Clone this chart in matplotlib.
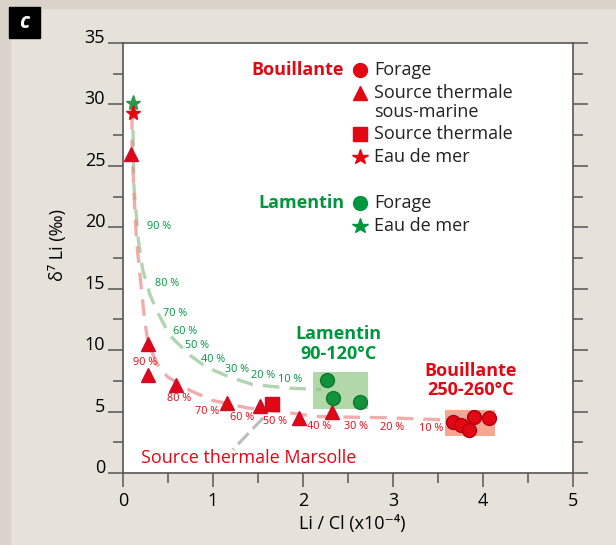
import matplotlib
matplotlib.use("Agg")
import matplotlib.pyplot as plt
from matplotlib.patches import Rectangle

plt.rcParams['font.family'] = ['Open Sans', 'DejaVu Sans']

RED = '#e30613'
GREEN = '#00963f'
AXC = '#555555'

# measured points
bou_sea_x = [0.11]
bou_sea_y = [29.3]
lam_sea_x = [0.11]
lam_sea_y = [30.1]
tri_x = [0.09, 0.28, 0.28, 0.59, 1.15, 1.52, 1.95, 2.32]
tri_y = [26.0, 10.5, 8.0, 7.2, 5.7, 5.45, 4.5, 5.0]
marsolle_x = [1.65]
marsolle_y = [5.6]
bou_for_x = [3.67, 3.76, 3.84, 3.90, 4.07]
bou_for_y = [4.17, 3.90, 3.50, 4.58, 4.45]
lam_for_x = [2.27, 2.33, 2.63]
lam_for_y = [7.6, 6.1, 5.8]

# mixing curves
red_curve_x = [0.10, 0.10, 0.12, 0.15, 0.19, 0.24, 0.28, 0.40, 0.50, 0.75, 1.00, 1.38, 1.74, 2.15, 2.50, 2.90, 3.30, 3.65]
red_curve_y = [29.3, 27.0, 23.0, 19.0, 16.0, 12.5, 10.5, 8.6, 7.8, 6.7, 5.9, 5.3, 5.0, 4.6, 4.55, 4.5, 4.4, 4.3]
green_curve_x = [0.10, 0.11, 0.12, 0.17, 0.22, 0.30, 0.39, 0.52, 0.74, 0.93, 1.19, 1.44, 1.86, 2.20]
green_curve_y = [30.1, 28.5, 23.5, 19.0, 16.5, 14.5, 13.0, 11.2, 9.6, 8.6, 7.8, 7.2, 6.9, 6.8]

pct_labels = ['90 %', '80 %', '70 %', '60 %', '50 %', '40 %', '30 %', '20 %', '10 %']
green_pct_x = [0.40, 0.49, 0.58, 0.69, 0.82, 1.00, 1.27, 1.56, 1.86]
green_pct_y = [20.1, 15.4, 13.0, 11.5, 10.4, 9.2, 8.4, 7.9, 7.6]
red_pct_x = [0.24, 0.62, 0.93, 1.32, 1.69, 2.18, 2.59, 2.99, 3.42]
red_pct_y = [9.0, 6.1, 5.0, 4.5, 4.2, 3.8, 3.8, 3.7, 3.6]

# fields (x0, y0, x1, y1)
lam_field = [2.11, 5.2, 2.72, 8.2]
bou_field = [3.58, 3.0, 4.13, 5.1]

fig = plt.figure(figsize=(6.16, 5.45), dpi=100)
fig.patch.set_facecolor('#e6e2db')
fig.add_artist(Rectangle((0, 0), 10 / 616, 1, transform=fig.transFigure, color='#d9d3c9', zorder=0))
fig.add_artist(Rectangle((0, 1 - 8 / 545), 1, 8 / 545, transform=fig.transFigure, color='#d9d3c9', zorder=0))
fig.add_artist(Rectangle((9 / 616, 1 - 38 / 545), 31 / 616, 31 / 545, transform=fig.transFigure, color='black'))
fig.text(24.5 / 616, 1 - 23 / 545, 'c', color='white', fontsize=15, fontweight='bold',
         style='italic', ha='center', va='center')

ax = fig.add_axes([123 / 616, 1 - 473 / 545, 450 / 616, 430 / 545])
ax.set_facecolor('white')
ax.set_xlim(0, 5)
ax.set_ylim(0, 35)

for s in ax.spines.values():
    s.set_color(AXC)
    s.set_linewidth(1.2)

ax.set_xticks(range(6))
ax.set_xticks([i * 0.5 for i in range(11)], minor=True)
ax.set_yticks(range(0, 36, 5))
ax.set_yticks([i * 2.5 for i in range(15)], minor=True)
ax.tick_params(axis='both', which='both', direction='out', color=AXC, width=1.1, labelsize=13)
ax.tick_params(axis='y', which='major', length=10.8, left=True, right=True, pad=2)
ax.tick_params(axis='y', which='minor', length=7.2, left=True, right=True)
ax.tick_params(axis='x', which='major', length=10, pad=4)
ax.tick_params(axis='x', which='minor', length=7)
ax.set_yticklabels([str(v) for v in range(0, 36, 5)], va='baseline')

ax.set_ylabel('δ⁷ Li (‰)', fontsize=13, va='center')
ax.yaxis.set_label_coords(-0.144, 0.53)
ax.set_xlabel('Li / Cl (x10⁻⁴)', fontsize=13, va='center')
ax.xaxis.set_label_coords(0.509, -0.119)

# fields
ax.add_patch(Rectangle((lam_field[0], lam_field[1]), lam_field[2] - lam_field[0],
                       lam_field[3] - lam_field[1], color='#9fcf95', alpha=0.8, lw=0, zorder=1))
ax.add_patch(Rectangle((bou_field[0], bou_field[1]), bou_field[2] - bou_field[0],
                       bou_field[3] - bou_field[1], color='#f28a6e', alpha=0.75, lw=0, zorder=1))

# mixing curves
ax.plot(green_curve_x, green_curve_y, color='#90c490', lw=2.4, dashes=(5, 3), alpha=0.7, zorder=2)
ax.plot(red_curve_x, red_curve_y, color='#ec8a8a', lw=2.4, dashes=(5, 3), alpha=0.7, zorder=2)
ax.plot([1.56, 1.22], [4.5, 1.9], color='#bbbbbb', lw=2.2, dashes=(5, 2), zorder=2)

for lbl, x, y in zip(pct_labels, green_pct_x, green_pct_y):
    ax.text(x, y, lbl, color=GREEN, fontsize=7.8, ha='center', va='center')
for lbl, x, y in zip(pct_labels, red_pct_x, red_pct_y):
    ax.text(x, y, lbl, color=RED, fontsize=7.8, ha='center', va='center')

# points
ax.plot(tri_x, tri_y, '^', color=RED, ms=10, mec='#c8102e', ls='none', zorder=4)
ax.plot(marsolle_x, marsolle_y, 's', color=RED, ms=10, mec='#c8102e', ls='none', zorder=4)
ax.plot(bou_for_x, bou_for_y, 'o', color=RED, ms=10, mec='#b00010', mew=1, ls='none', zorder=4)
ax.plot(lam_for_x, lam_for_y, 'o', color='#12923a', ms=10, mec='#0b7a2e', ls='none', zorder=4)
ax.plot(lam_sea_x, lam_sea_y, '*', color='#2a9a4a', ms=11, ls='none', zorder=4)
ax.plot(bou_sea_x, bou_sea_y, '*', color=RED, ms=11, ls='none', zorder=5)

ax.text(2.39, 11.3, 'Lamentin', color=GREEN, fontsize=13, fontweight='bold', ha='center', va='center')
ax.text(2.39, 9.7, '90-120°C', color=GREEN, fontsize=13, fontweight='bold', ha='center', va='center')
ax.text(3.86, 8.3, 'Bouillante', color=RED, fontsize=13, fontweight='bold', ha='center', va='center')
ax.text(3.86, 6.75, '250-260°C', color=RED, fontsize=13, fontweight='bold', ha='center', va='center')
ax.text(0.2, 1.2, 'Source thermale Marsolle', color=RED, fontsize=13, ha='left', va='center')

# legend block
def fx(px):
    return (px - 123) / 450


def fy(py):
    return (473 - py) / 430


T = ax.transAxes
ax.text(fx(344), fy(70), 'Bouillante', color=RED, fontsize=13, fontweight='bold', ha='right', va='center', transform=T)
ax.text(fx(344), fy(203), 'Lamentin', color=GREEN, fontsize=13, fontweight='bold', ha='right', va='center', transform=T)
legend_rows = [('o', RED, 70, 'Forage'), ('^', RED, 93, 'Source thermale'),
               ('s', RED, 134, 'Source thermale'), ('*', RED, 157, 'Eau de mer'),
               ('o', GREEN, 203, 'Forage'), ('*', GREEN, 226, 'Eau de mer')]
for m, c, py, txt in legend_rows:
    ax.plot([fx(360)], [fy(py)], m, color=c, ms=10 if m != '*' else 11.5, transform=T, clip_on=False)
    ax.text(fx(374), fy(py), txt, color='#222222', fontsize=13, ha='left', va='center', transform=T)
ax.text(fx(374), fy(112), 'sous-marine', color='#222222', fontsize=13, ha='left', va='center', transform=T)

fig.savefig('out.png', dpi=100, facecolor=fig.get_facecolor())
